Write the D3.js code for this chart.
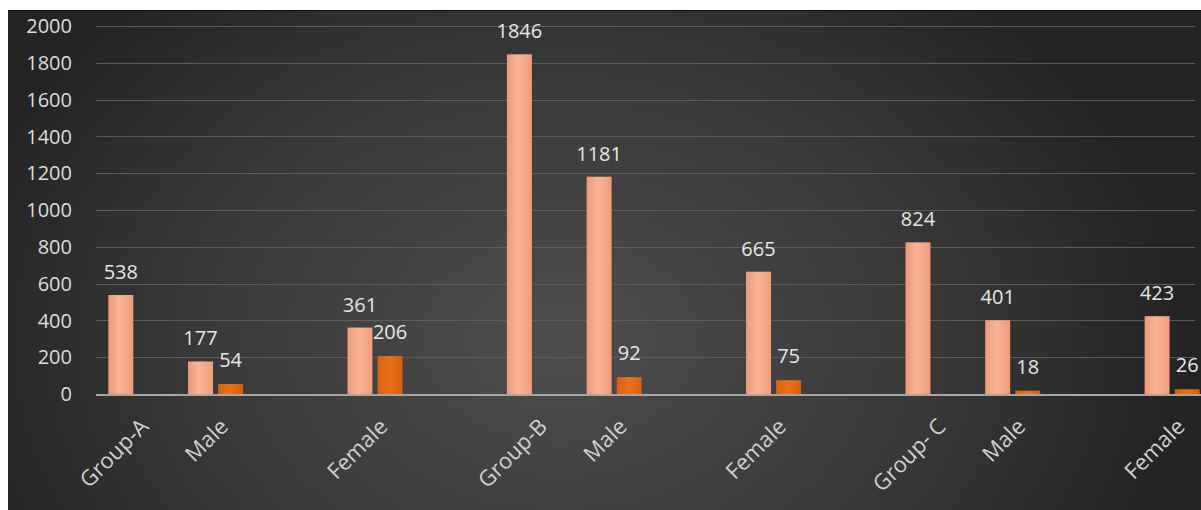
<!DOCTYPE html>
<html>
<head>
<meta charset="utf-8">
<script src="https://cdn.jsdelivr.net/npm/d3@7"></script>
<style>
  body { margin: 0; background: #fff; }
  svg { display: block; font-family: "Open Sans", "Liberation Sans", sans-serif; }
</style>
</head>
<body>
<script>
// categories (blank ones are empty slots in the original sheet)
const categories = ["Group-A", "Male", "", "Female", "", "Group-B", "Male", "", "Female", "", "Group- C", "Male", "", "Female"];
const seriesA = [538, 177, null, 361, null, 1846, 1181, null, 665, null, 824, 401, null, 423];
const seriesB = [null, 54, null, 206, null, null, 92, null, 75, null, null, 18, null, 26];
const yTicks = [0, 200, 400, 600, 800, 1000, 1200, 1400, 1600, 1800, 2000];

const width = 1201, height = 510;

const svg = d3.select("body").append("svg")
    .attr("width", width)
    .attr("height", height);

const defs = svg.append("defs");

// dark panel, lighter in the middle
const bg = defs.append("radialGradient")
    .attr("id", "bg")
    .attr("gradientUnits", "userSpaceOnUse")
    .attr("cx", 560).attr("cy", 340).attr("r", 620)
    .attr("gradientTransform", "translate(560,340) scale(1,0.75) translate(-560,-340)");
bg.append("stop").attr("offset", "0%").attr("stop-color", "#4d4d4d");
bg.append("stop").attr("offset", "55%").attr("stop-color", "#3a3a3a");
bg.append("stop").attr("offset", "100%").attr("stop-color", "#242424");

const gA = defs.append("linearGradient").attr("id", "barA");
gA.append("stop").attr("offset", "0%").attr("stop-color", "#ee9977");
gA.append("stop").attr("offset", "45%").attr("stop-color", "#f8b597");
gA.append("stop").attr("offset", "100%").attr("stop-color", "#ef9c7a");

const gB = defs.append("linearGradient").attr("id", "barB");
gB.append("stop").attr("offset", "0%").attr("stop-color", "#d9600f");
gB.append("stop").attr("offset", "50%").attr("stop-color", "#e8731c");
gB.append("stop").attr("offset", "100%").attr("stop-color", "#d65e10");

svg.append("rect")
    .attr("x", 8).attr("y", 10)
    .attr("width", width - 8).attr("height", height - 10)
    .attr("fill", "url(#bg)");
svg.append("line")
    .attr("x1", 8).attr("x2", width)
    .attr("y1", 10.5).attr("y2", 10.5)
    .attr("stroke", "#111").attr("stroke-width", 1);

// scales
const x = d3.scaleBand()
    .domain(d3.range(categories.length))
    .range([96, 1212]);

const x1 = d3.scaleBand()
    .domain(["a", "b"])
    .range([0, x.bandwidth()])
    .paddingInner(0.17)
    .paddingOuter(0.41);

const y = d3.scaleLinear()
    .domain([0, 2000])
    .range([394, 26]);

// gridlines
svg.append("g")
  .selectAll("line")
  .data(yTicks.filter(d => d > 0))
  .join("line")
    .attr("x1", 96).attr("x2", 1195)
    .attr("y1", d => Math.round(y(d)) + 0.5)
    .attr("y2", d => Math.round(y(d)) + 0.5)
    .attr("stroke", "#5c5c5c")
    .attr("stroke-width", 1);

// y tick labels
svg.append("g")
  .selectAll("text")
  .data(yTicks)
  .join("text")
    .attr("x", 72)
    .attr("y", d => y(d))
    .attr("dy", "0.36em")
    .attr("text-anchor", "end")
    .attr("fill", "#dcdcdc")
    .style("font-size", "20px")
    .text(d => d);

// bars
const rows = categories.map((c, i) => ({ i, label: c, a: seriesA[i], b: seriesB[i] }));

const bars = svg.append("g");
bars.selectAll(".ba")
  .data(rows.filter(d => d.a != null))
  .join("rect")
    .attr("x", d => x(d.i) + x1("a"))
    .attr("width", x1.bandwidth())
    .attr("y", d => y(d.a))
    .attr("height", d => y(0) - y(d.a))
    .attr("fill", "url(#barA)");

bars.selectAll(".bb")
  .data(rows.filter(d => d.b != null))
  .join("rect")
    .attr("x", d => x(d.i) + x1("b"))
    .attr("width", x1.bandwidth())
    .attr("y", d => y(d.b))
    .attr("height", d => y(0) - y(d.b))
    .attr("fill", "url(#barB)");

// axis line
svg.append("line")
    .attr("x1", 96).attr("x2", width)
    .attr("y1", y(0) + 1).attr("y2", y(0) + 1)
    .attr("stroke", "#a6a6a6")
    .attr("stroke-width", 2);

// value labels
const labels = svg.append("g")
    .attr("fill", "#e6e6e6")
    .attr("text-anchor", "middle")
    .style("font-size", "20px");

labels.selectAll(".la")
  .data(rows.filter(d => d.a != null))
  .join("text")
    .attr("x", d => x(d.i) + x1("a") + x1.bandwidth() / 2)
    .attr("y", d => y(d.a) - 16)
    .text(d => d.a);

labels.selectAll(".lb")
  .data(rows.filter(d => d.b != null))
  .join("text")
    .attr("x", d => x(d.i) + x1("b") + x1.bandwidth() / 2)
    .attr("y", d => y(d.b) - 17)
    .text(d => d.b);

// category labels, rotated
svg.append("g")
  .selectAll("text")
  .data(rows.filter(d => d.label !== ""))
  .join("text")
    .attr("transform", d => `translate(${x(d.i) + x.bandwidth() / 2 + 14},${428}) rotate(-45)`)
    .attr("text-anchor", "end")
    .attr("fill", "#cfcfcf")
    .style("font-size", "22px")
    .text(d => d.label);
</script>
</body>
</html>
